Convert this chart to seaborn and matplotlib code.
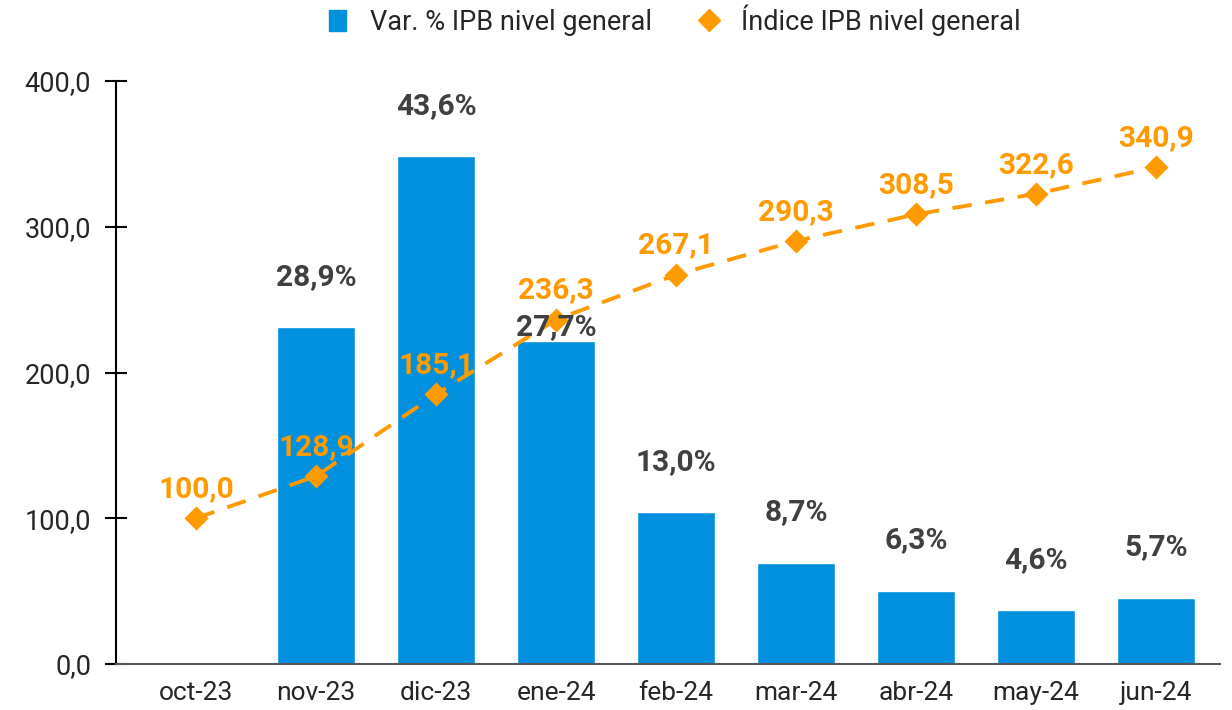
import numpy as np
import pandas as pd
import matplotlib
matplotlib.use('Agg')
import matplotlib.pyplot as plt
import seaborn as sb
from matplotlib.lines import Line2D
from matplotlib.patches import Patch

# data
months = ['oct-23', 'nov-23', 'dic-23', 'ene-24', 'feb-24', 'mar-24', 'abr-24', 'may-24', 'jun-24']
var_pct = [np.nan, 28.9, 43.6, 27.7, 13.0, 8.7, 6.3, 4.6, 5.7]
index_ipb = [100.0, 128.9, 185.1, 236.3, 267.1, 290.3, 308.5, 322.6, 340.9]

df = pd.DataFrame({'mes': months, 'var': var_pct, 'indice': index_ipb})

blue = '#0090DD'
orange = '#FF9A00'

sb.set_style('white')
plt.rcParams['font.family'] = ['Roboto', 'DejaVu Sans']

fig = plt.figure(figsize=(12.32, 7.10), dpi=100)
ax = fig.add_axes([0.0942, 0.0648, 0.8958, 0.8211])
ax2 = ax.twinx()

# bars on the secondary (hidden) axis
sb.barplot(data=df, x='mes', y='var', color=blue, width=0.65, saturation=1, ax=ax2)
ax2.set_ylim(0, 50)
ax2.set_yticks([])
ax2.set_ylabel('')
for s in ax2.spines.values():
    s.set_visible(False)

# index line on the main axis
sb.pointplot(data=df, x='mes', y='indice', color=orange, markers='D', linestyles='--',
             markersize=10, linewidth=2.8, ax=ax)
for line in ax.lines:
    line.set_dashes([5, 3.5])
ax.set_zorder(ax2.get_zorder() + 1)
ax.patch.set_visible(False)

ax.set_ylim(0, 400)
ax.set_xlim(-0.667, 8.53)
ax.set_yticks([0, 100, 200, 300, 400])
ax.set_yticklabels([f'{v:.1f}'.replace('.', ',') for v in [0, 100, 200, 300, 400]], fontsize=19.5)
ax.tick_params(axis='y', length=16, width=1.5, color='black', direction='inout', pad=10)
ax.tick_params(axis='x', length=0, labelsize=19, pad=12)
ax.set_xlabel('')
ax.set_ylabel('')
ax.spines['top'].set_visible(False)
ax.spines['right'].set_visible(False)
ax.spines['left'].set_linewidth(1.5)
ax.spines['left'].set_color('black')
ax.spines['bottom'].set_color('#555555')
ax.spines['bottom'].set_linewidth(1.5)

# index labels
for i, v in enumerate(index_ipb):
    ax.annotate(f'{v:.1f}'.replace('.', ','), (i, v), xytext=(0, 21), textcoords='offset points',
                ha='center', va='center', fontsize=21.5, fontweight='bold', color=orange, zorder=5)

# bar labels, drawn on top of the line (the ene-24 one sits lower, as in the original)
bar_offsets = [36, 36, 36, 10, 36, 36, 36, 36, 36]
for i, v in enumerate(var_pct):
    if np.isnan(v):
        continue
    ax.annotate(f'{v:.1f}%'.replace('.', ','), (i, v), xycoords=ax2.transData,
                xytext=(0, bar_offsets[i]), textcoords='offset points',
                ha='center', va='center', fontsize=21.5, fontweight='bold', color='#404040', zorder=6)

handles = [Patch(color=blue, label='Var. % IPB nivel general'),
           Line2D([], [], color=orange, marker='D', linestyle='', markersize=11,
                  label='Índice IPB nivel general')]
fig.legend(handles=handles, loc='upper center', bbox_to_anchor=(0.548, 1.028), ncol=2,
           frameon=False, fontsize=19.5, handlelength=0.6, handleheight=0.8,
           handletextpad=0.9, columnspacing=1.8)

fig.savefig('out.png', dpi=100)
